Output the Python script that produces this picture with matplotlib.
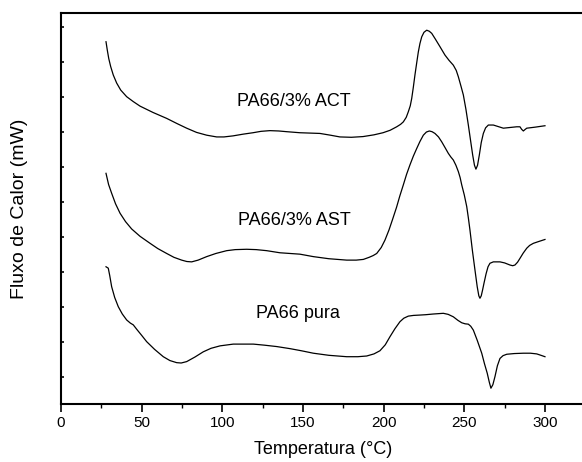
import matplotlib
matplotlib.use("Agg")
import matplotlib.pyplot as plt
from matplotlib.ticker import MultipleLocator, NullFormatter

plt.rcParams['font.family'] = ['Liberation Sans', 'DejaVu Sans']

# DSC curves: temperature (°C) and heat flow (arbitrary offset units)
t_act = [27.9, 28.7, 29.6, 30.8, 32.4, 34.5, 37.0, 40.7, 44.8, 49.0, 57.0, 65.5,
         72.0, 77.9, 84.0, 90.3, 96.5, 101.0, 106.6, 113.0, 119.0, 124.0, 129.5,
         135.0, 139.9, 148.1, 160.5, 167.0, 172.9, 180.0, 187.2, 194.0, 199.6,
         204.0, 208.1, 210.5, 212.2, 214.0, 215.3, 216.5, 217.4, 218.4, 219.4,
         220.5, 221.5, 222.5, 223.6, 225.0, 226.7, 228.3, 229.8, 232.0, 234.9,
         238.0, 240.5, 243.2, 245.0, 246.3, 248.0, 249.4, 251.0, 252.5, 254.0,
         255.2, 256.3, 257.2, 258.2, 259.3, 260.5, 261.8, 263.2, 264.9, 268.0,
         274.2, 282.5, 284.5, 285.5, 286.6, 287.6, 288.7, 294.0, 300.0]
q_act = [9.58, 9.34, 9.10, 8.87, 8.63, 8.40, 8.20, 8.01, 7.87, 7.74, 7.56, 7.39,
         7.24, 7.11, 6.99, 6.91, 6.86, 6.86, 6.89, 6.94, 6.98, 7.02, 7.04,
         7.03, 7.01, 6.98, 6.96, 6.91, 6.86, 6.85, 6.87, 6.92, 6.98,
         7.05, 7.15, 7.22, 7.29, 7.42, 7.58, 7.75, 7.96, 8.28, 8.63,
         8.98, 9.29, 9.53, 9.72, 9.85, 9.91, 9.88, 9.82, 9.66, 9.44,
         9.20, 9.05, 8.91, 8.76, 8.58, 8.30, 8.06, 7.65, 7.20, 6.72,
         6.34, 6.05, 5.94, 6.05, 6.34, 6.70, 6.96, 7.12, 7.20, 7.20,
         7.11, 7.15, 7.15, 7.08, 7.03, 7.07, 7.11, 7.14, 7.18]

t_ast = [27.9, 29.5, 31.4, 33.8, 36.6, 40.0, 43.8, 49.0, 55.2, 60.0, 65.5, 70.0,
         74.8, 78.0, 81.0, 85.0, 90.3, 96.0, 102.7, 108.0, 115.1, 121.0, 127.5,
         135.7, 148.1, 156.4, 166.0, 177.1, 183.0, 187.4, 191.0, 193.5, 195.7,
         198.5, 200.8, 203.3, 205.5, 208.0, 210.0, 212.2, 214.2, 216.3, 218.4,
         220.5, 222.5, 224.6, 226.5, 228.3, 230.0, 231.8, 234.0, 236.0, 238.0,
         240.1, 241.6, 243.2, 244.8, 246.3, 247.4, 248.4, 250.0, 251.5, 252.5,
         253.5, 255.0, 256.6, 258.0, 259.0, 259.7, 260.5, 261.3, 262.2, 263.5,
         264.7, 265.9, 268.0, 272.1, 275.0, 278.3, 280.0, 281.4, 283.0, 284.5,
         286.5, 288.7, 290.5, 292.8, 296.0, 300.0]
q_ast = [5.82, 5.50, 5.25, 4.95, 4.68, 4.44, 4.23, 4.02, 3.82, 3.67, 3.53, 3.42,
         3.34, 3.30, 3.29, 3.34, 3.44, 3.53, 3.61, 3.64, 3.65, 3.64, 3.61,
         3.55, 3.51, 3.44, 3.38, 3.34, 3.34, 3.36, 3.42, 3.47, 3.53,
         3.70, 3.91, 4.20, 4.50, 4.85, 5.17, 5.49, 5.79, 6.06, 6.31,
         6.53, 6.73, 6.91, 7.00, 7.03, 7.01, 6.96, 6.86, 6.72, 6.56,
         6.39, 6.29, 6.20, 6.05, 5.87, 5.70, 5.49, 5.20, 4.87, 4.55,
         4.20, 3.62, 3.06, 2.58, 2.32, 2.25, 2.32, 2.48, 2.68, 2.95,
         3.15, 3.25, 3.29, 3.29, 3.26, 3.20, 3.18, 3.20, 3.28, 3.39,
         3.54, 3.68, 3.76, 3.82, 3.87, 3.93]

t_pura = [27.9, 29.3, 30.2, 31.4, 33.3, 35.5, 38.0, 40.7, 43.0, 44.8, 47.0, 50.0,
          53.1, 58.0, 63.4, 67.5, 71.7, 74.5, 77.9, 83.0, 88.2, 93.0, 98.6,
          106.8, 119.2, 126.0, 133.7, 142.0, 149.0, 156.4, 166.0, 177.1, 184.0,
          189.5, 194.0, 197.7, 201.0, 203.9, 207.0, 210.1, 212.5, 215.3, 218.5,
          222.5, 226.0, 230.8, 237.0, 240.0, 243.2, 246.0, 248.4, 250.5, 252.5,
          254.0, 255.6, 258.0, 260.8, 262.5, 264.2, 265.5, 266.5, 267.7, 269.0,
          270.5, 272.1, 274.0, 276.3, 281.0, 286.6, 291.0, 294.9, 297.5, 300.0]
q_pura = [3.15, 3.11, 2.90, 2.58, 2.27, 2.01, 1.80, 1.63, 1.54, 1.49, 1.36, 1.19,
          1.01, 0.79, 0.58, 0.47, 0.41, 0.40, 0.44, 0.57, 0.72, 0.82, 0.89,
          0.94, 0.94, 0.91, 0.87, 0.81, 0.75, 0.68, 0.62, 0.58, 0.58,
          0.60, 0.66, 0.75, 0.92, 1.15, 1.38, 1.58, 1.68, 1.74, 1.76,
          1.77, 1.78, 1.80, 1.82, 1.79, 1.72, 1.62, 1.55, 1.52, 1.51,
          1.45, 1.34, 1.05, 0.68, 0.38, 0.11, -0.15, -0.32, -0.22, 0.01,
          0.32, 0.53, 0.61, 0.65, 0.67, 0.68, 0.68, 0.66, 0.62, 0.58]

labels = ["PA66/3% ACT", "PA66/3% AST", "PA66 pura"]
label_t = [144.1, 144.7, 146.9]
label_q = [7.75, 4.34, 1.68]

fig = plt.figure(figsize=(5.82, 4.62), dpi=100)
ax = fig.add_axes([61 / 582, 57.7 / 462, 524.3 / 582, 391.6 / 462])

for t, q in [(t_act, q_act), (t_ast, q_ast), (t_pura, q_pura)]:
    ax.plot(t, q, color='black', linewidth=0.9, solid_joinstyle='round')

for txt, x, y in zip(labels, label_t, label_q):
    ax.text(x, y, txt, ha='center', va='baseline', fontsize=13)

ax.set_xlim(0, 325)
ax.set_ylim(-0.78, 10.41)

ax.xaxis.set_major_locator(MultipleLocator(50))
ax.xaxis.set_minor_locator(MultipleLocator(25))
ax.yaxis.set_major_locator(MultipleLocator(1))
ax.yaxis.set_major_formatter(NullFormatter())
ax.tick_params(axis='x', which='major', direction='out', length=5.5, width=1.2,
               labelsize=11, pad=3)
ax.tick_params(axis='x', which='minor', direction='out', length=3, width=1.0)
ax.tick_params(axis='y', which='major', direction='in', length=2.5, width=1.2)

ax.spines['right'].set_visible(False)
for s in ['left', 'top', 'bottom']:
    ax.spines[s].set_linewidth(1.5)

ax.set_xlabel("Temperatura (°C)", fontsize=13, labelpad=8)
ax.set_ylabel("Fluxo de Calor (mW)", fontsize=14, labelpad=20)

fig.savefig("out.png", dpi=100)
